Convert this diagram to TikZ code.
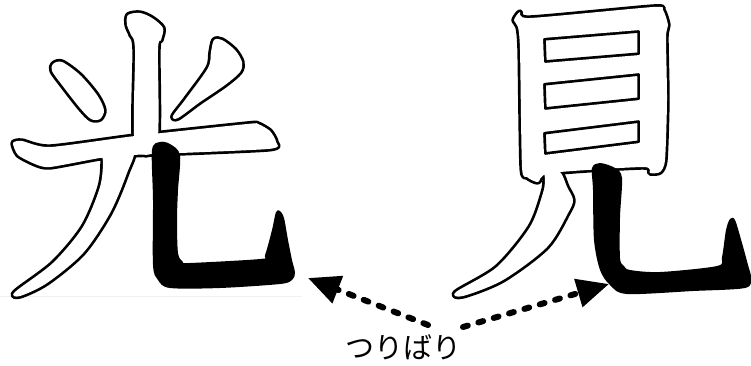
\documentclass[tikz,border=0pt]{standalone}
\usepackage{fontspec}
\usetikzlibrary{arrows.meta}
\newfontfamily\jpfont{Noto Sans CJK JP}

% white strokes of the two characters (pixel units, y downwards)
\newcommand\hollowstrokes{%
  % hikari
  \path plot[smooth cycle,tension=0.5] coordinates {(128,15) (140,13) (152,18) (163,28) (161,40) (158,50) (157,145) (135,145) (135,50) (131,35) (127,25)};
  \path plot[smooth cycle,tension=0.5] coordinates {(53,64) (62,62) (80,75) (97,95) (104,110) (100,119) (91,119) (80,108) (62,85) (52,71)};
  \path plot[smooth cycle,tension=0.5] coordinates {(214,40) (222,40) (235,50) (242,62) (240,72) (225,85) (200,102) (178,118) (173,116) (185,100) (208,68) (211,52)};
  \path plot[smooth cycle,tension=0.4] coordinates {(13,143) (22,141) (50,147) (135,136) (247,124) (258,124) (270,131) (276,142) (268,149) (132,155) (100,158) (50,167) (35,164) (18,155)};
  \path plot[smooth cycle,tension=0.5] coordinates {(100,150) (133,150) (127,173) (110,213) (83,253) (47,283) (20,296) (15,292) (53,263) (83,227) (100,187) (103,160)};
  % miru
  \path[even odd rule] plot[smooth cycle,tension=0.4] coordinates {(514,20) (520,12) (530,18) (653,7) (663,10) (668,25) (666,37) (667,100) (665,160) (660,172) (650,173) (643,167) (550,173) (538,182) (527,177) (522,167) (520,50) (518,27)}
    [rounded corners=1pt] (543,38) -- (640,30) -- (640,55) -- (544,63) -- cycle
    (543,83) -- (640,73) -- (640,100) -- (544,110) -- cycle
    (543,132) -- (640,120) -- (640,143) -- (544,155) -- cycle;
  \path plot[smooth cycle,tension=0.5] coordinates {(545,170) (560,172) (567,187) (573,200) (568,213) (547,247) (503,280) (463,296) (456,292) (497,267) (530,227) (543,193) (545,180)};
}

\tikzset{
  rim/.style={draw=black,line width=5.4pt,line join=round},
  blank/.style={fill=white},
  ink/.style={fill=black},
  dotarrow/.style={line width=6pt,line cap=round,dash pattern=on 5pt off 11pt,
    -{Triangle[length=32pt,width=28pt]}},
}

\begin{document}
\begin{tikzpicture}[x=1pt,y=-1pt]
  \useasboundingbox (0,0) rectangle (751,365);
  \draw[gray!12,line width=1pt] (0,296) -- (302,296);

  \begin{scope}[every path/.append style={rim}]
    \hollowstrokes
  \end{scope}
  \begin{scope}[every path/.append style={blank}]
    \hollowstrokes
  \end{scope}

  % last strokes
  \fill[ink] plot[smooth cycle,tension=0.5] coordinates {(152,150) (160,142) (170,144) (180,155) (178,190) (177,220) (178,253) (183,262) (190,263) (260,259) (265,255) (272,230) (276,212) (280,211) (284,218) (288,240) (292,260) (295,273) (292,280) (280,284) (220,288) (170,288) (158,280) (153,265) (153,200)};
  \fill[ink] plot[smooth cycle,tension=0.5] coordinates {(592,168) (600,163) (615,168) (622,178) (620,217) (620,258) (624,266) (630,270) (660,272) (717,266) (722,257) (726,230) (730,219) (735,220) (742,243) (748,265) (751,278) (745,288) (693,291) (627,294) (610,285) (600,270) (594,240) (593,190)};

  \node[font=\jpfont\fontsize{29}{33}\selectfont,inner sep=0pt] (tsuribari) at (403,347) {つりばり};
  \coordinate (hikarihook) at (308,278);
  \coordinate (miruhook) at (609,284);
  \coordinate (lefttail) at (428,325);
  \coordinate (righttail) at (463,327);
  \draw[dotarrow] (lefttail) -- (hikarihook);
  \draw[dotarrow] (righttail) -- (miruhook);
\end{tikzpicture}
\end{document}
